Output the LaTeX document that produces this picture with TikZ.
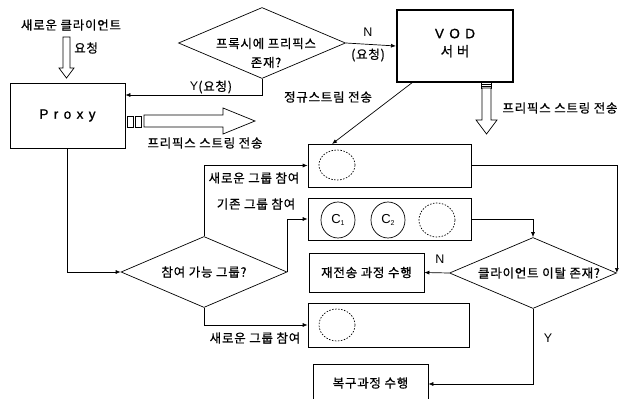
\documentclass[tikz,border=0pt]{standalone}
\usepackage{fontspec}
\setmainfont{Noto Sans CJK KR}[LetterSpace=6, FakeBold=0.7]
\newfontfamily\lat{Liberation Sans}
\newfontfamily\latsp{Liberation Sans}[LetterSpace=40, FakeBold=1.2]
\usetikzlibrary{shapes.geometric,arrows.meta}
\tikzset{
  every node/.style={font=\fontsize{12.5}{14}\selectfont, inner sep=0pt},
  boxn/.style={draw, line width=0.7pt, minimum width=#1, anchor=center},
  dec/.style={draw, diamond, line width=0.7pt, aspect=2.3, inner sep=0pt},
  arr/.style={line width=0.7pt, -{Latex[length=5pt,width=4pt]}},
  ln/.style={line width=0.7pt},
  hollow/.style={draw, line width=0.7pt, fill=white},
  dcirc/.style={draw, ellipse, dashed, dash pattern=on 1.5pt off 1.5pt, line width=0.7pt, minimum width=36pt, minimum height=30pt},
  scirc/.style={draw, ellipse, line width=0.7pt, minimum width=34pt, minimum height=36pt},
  lbl/.style={anchor=center}
}
\begin{document}
\begin{tikzpicture}[x=1pt,y=-1pt]
\useasboundingbox (0,0) rectangle (633,399);
\clip (0,0) rectangle (633,399);

% client
\node[lbl] (client) at (71,25) {새로운 클라이언트};
\draw[hollow] (63,37) -- (70,37) -- (70,68) -- (74,68) -- (66.5,78) -- (59,68) -- (63,68) -- cycle;
\node[anchor=west] (req1) at (74,48) {요청};

% proxy
\node[boxn=115pt, minimum height=65pt] (proxy) at (67.5,115.5) {\latsp\fontsize{13.5}{15}\selectfont Proxy};

% diamond 1
\node[dec, minimum width=167pt, minimum height=71pt] (d1) at (262,43) {};
\node[lbl, align=center] (d1t) at (266,53) {프록시에 프리픽스\\[5pt]존재?};

% VOD
\node[boxn=116pt, minimum height=72pt, line width=2pt] (vod) at (455,46) {};
\node[lbl, align=center] (vodt) at (455,43) {\latsp\fontsize{13.5}{15}\selectfont VOD\\[4pt]\rmfamily\fontsize{13.5}{15}\selectfont 서 버};

% Y(request)
\coordinate (ybend) at (262,95);
\draw[arr] (d1.south) -- (ybend) -- (ybend -| proxy.east);
\node[lbl] (ylab) at (211,87) {\lat Y\rm(요청)};

% N(request)
\draw[arr] (d1.east) -- (vod.west);
\node[lbl] (nlab) at (368,32) {\lat N};
\node[lbl] (nreq) at (368,55) {(요청)};

% VOD prefix stream down arrow
\draw[ln] (481.5,82) rectangle (491.5,88);
\draw[line width=0.5pt] (481.5,84) -- (491.5,84) (481.5,86) -- (491.5,86);
\draw[hollow] (482,88) -- (491,88) -- (491,120) -- (497,120) -- (486.5,134) -- (476,120) -- (482,120) -- cycle;
\node[lbl] (vodpre) at (560,108) {프리픽스 스트링 전송};

% groups
\node[boxn=163pt, minimum height=43pt] (g1) at (389.5,165.5) {};
\node[boxn=163pt, minimum height=42pt] (g2) at (389.5,219) {};
\node[boxn=115pt, minimum height=39pt] (retx) at (366.5,272.5) {재전송 과정 수행};
\node[boxn=161pt, minimum height=44pt] (g3) at (388.5,325) {};
\node[boxn=115pt, minimum height=40pt] (recov) at (370.5,384) {};
\node[lbl] (recovt) at (370.5,383) {복구과정 수행};

\node[dcirc] (c0) at (337,165) {};
\node[scirc] (c1) at (338,220) {\lat\fontsize{13}{14}\selectfont C\raisebox{-2pt}{\fontsize{7}{8}\selectfont 1}};
\node[scirc] (c2) at (388,220) {\lat\fontsize{13}{14}\selectfont C\raisebox{-2pt}{\fontsize{7}{8}\selectfont 2}};
\node[dcirc, minimum height=34pt] (c3) at (437,220) {};
\node[dcirc, minimum height=32pt] (c4) at (337,325) {};

% regular stream
\coordinate (vodbl) at (413,82);
\coordinate (g1tip) at (332,144);
\draw[arr] (vodbl) -- (g1tip);
\node[lbl] (regl) at (328,97) {정규스트림 전송};

% proxy prefix hollow right arrow
\draw[ln] (127,116) rectangle (133,127);
\draw[ln] (135,116) rectangle (141,127);
\draw[hollow] (144,115) -- (223,115) -- (223,108) -- (255,121) -- (223,134) -- (223,127) -- (144,127) -- cycle;
\node[lbl] (proxpre) at (205,143) {프리픽스 스트링 전송};

% diamond 2
\node[dec, minimum width=166pt, minimum height=71pt] (d2) at (204,272) {참여 가능 그룹?};
\draw[arr] (proxy.south) |- (d2.west);
\draw[arr] (d2.north) |- (g1.west);
\draw[arr] (d2.east) |- (g2.west);
\draw[arr] (d2.south) |- (g3.west);
\node[lbl] (new1) at (254,178) {새로운 그룹 참여};
\node[lbl] (old1) at (256,204) {기존 그룹 참여};
\node[lbl] (new2) at (255,338) {새로운 그룹 참여};

% diamond 3
\node[dec, minimum width=167pt, minimum height=71pt] (d3) at (533,273) {};
\node[lbl] (d3t) at (539,273) {클라이언트 이탈 존재?};
\draw[arr] (g1.east) -| (d3.east);
\draw[arr] (g2.east) -| (d3.north);
\draw[arr] (d3.west) -- (retx.east);
\draw[arr] (d3.south) |- (recov.east);
\node[lbl] (n2) at (440,259) {\lat N};
\node[lbl] (y2) at (548,338) {\lat Y};
\end{tikzpicture}
\end{document}
